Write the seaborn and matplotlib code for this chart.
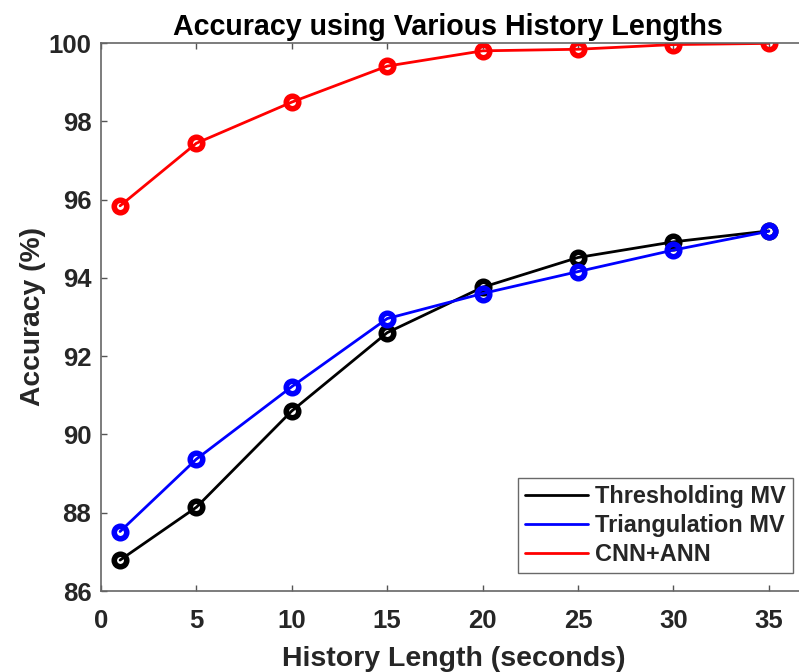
import matplotlib
matplotlib.use("Agg")
import matplotlib.pyplot as plt
from matplotlib.lines import Line2D
import seaborn as sns
import pandas as pd

history = [1, 5, 10, 15, 20, 25, 30, 35]
thresholding_mv = [86.79, 88.14, 90.60, 92.60, 93.76, 94.52, 94.92, 95.20]
triangulation_mv = [87.52, 89.37, 91.22, 92.96, 93.60, 94.16, 94.71, 95.19]
cnn_ann = [95.84, 97.44, 98.49, 99.41, 99.80, 99.84, 99.96, 99.99]
series_names = ["Thresholding MV", "Triangulation MV", "CNN+ANN"]
series_colors = ["#000000", "#0000FF", "#FF0000"]
x_ticks = [0, 5, 10, 15, 20, 25, 30, 35]
y_ticks = [86, 88, 90, 92, 94, 96, 98, 100]

df = pd.DataFrame({
    "History": history * 3,
    "Accuracy": thresholding_mv + triangulation_mv + cnn_ann,
    "Method": sum([[n] * len(history) for n in series_names], []),
})

sns.set_theme(style="white")
plt.rcParams["font.family"] = ["Liberation Sans", "DejaVu Sans"]
plt.rcParams["font.weight"] = "bold"

fig = plt.figure(figsize=(7.99, 6.72), dpi=100)
ax = fig.add_axes([101 / 799, 81 / 672, 706 / 799, 548 / 672])

palette = dict(zip(series_names, series_colors))
sns.lineplot(data=df, x="History", y="Accuracy", hue="Method", hue_order=series_names,
             palette=palette, marker="o", markersize=9, linewidth=2.0,
             legend=False, ax=ax, errorbar=None)
for line, c in zip(ax.lines, series_colors):
    line.set_markeredgecolor(c)
    line.set_markerfacecolor("none")
    line.set_markeredgewidth(4)

ax.set_xlim(0, 37)
ax.set_ylim(86, 100)
ax.set_xticks(x_ticks)
ax.set_yticks(y_ticks)
ax.tick_params(axis="both", direction="in", length=4.5, width=1, color="#555555",
               labelsize=18.5, labelcolor="#262626", top=True, right=False, bottom=True, left=True)
ax.tick_params(axis="x", pad=13)
ax.tick_params(axis="y", pad=7)
for lbl in ax.get_xticklabels() + ax.get_yticklabels():
    lbl.set_fontweight("bold")
for s in ["left", "bottom", "top"]:
    ax.spines[s].set_visible(True)
    ax.spines[s].set_color("#666666")
    ax.spines[s].set_linewidth(1.2)
ax.spines["right"].set_visible(False)

ax.set_title("Accuracy using Various History Lengths", fontsize=20.6, fontweight="bold",
             color="black", pad=6, x=0.491)
ax.set_xlabel("History Length (seconds)", fontsize=20.5, fontweight="bold", color="#262626", labelpad=9)
ax.set_ylabel("Accuracy (%)", fontsize=20.3, fontweight="bold", color="#262626", labelpad=2)

handles = [Line2D([0], [0], color=c, lw=2.0) for c in series_colors]
leg = ax.legend(handles, series_names, loc="lower right", bbox_to_anchor=(0.980, 0.033),
                fontsize=16.9, frameon=True, fancybox=False, handlelength=2.7,
                handletextpad=0.3, borderpad=0.3, labelspacing=0.25, borderaxespad=0)
leg.get_frame().set_edgecolor("#444444")
leg.get_frame().set_linewidth(1.0)
for t in leg.get_texts():
    t.set_fontweight("bold")

fig.savefig("out.png", dpi=100)
